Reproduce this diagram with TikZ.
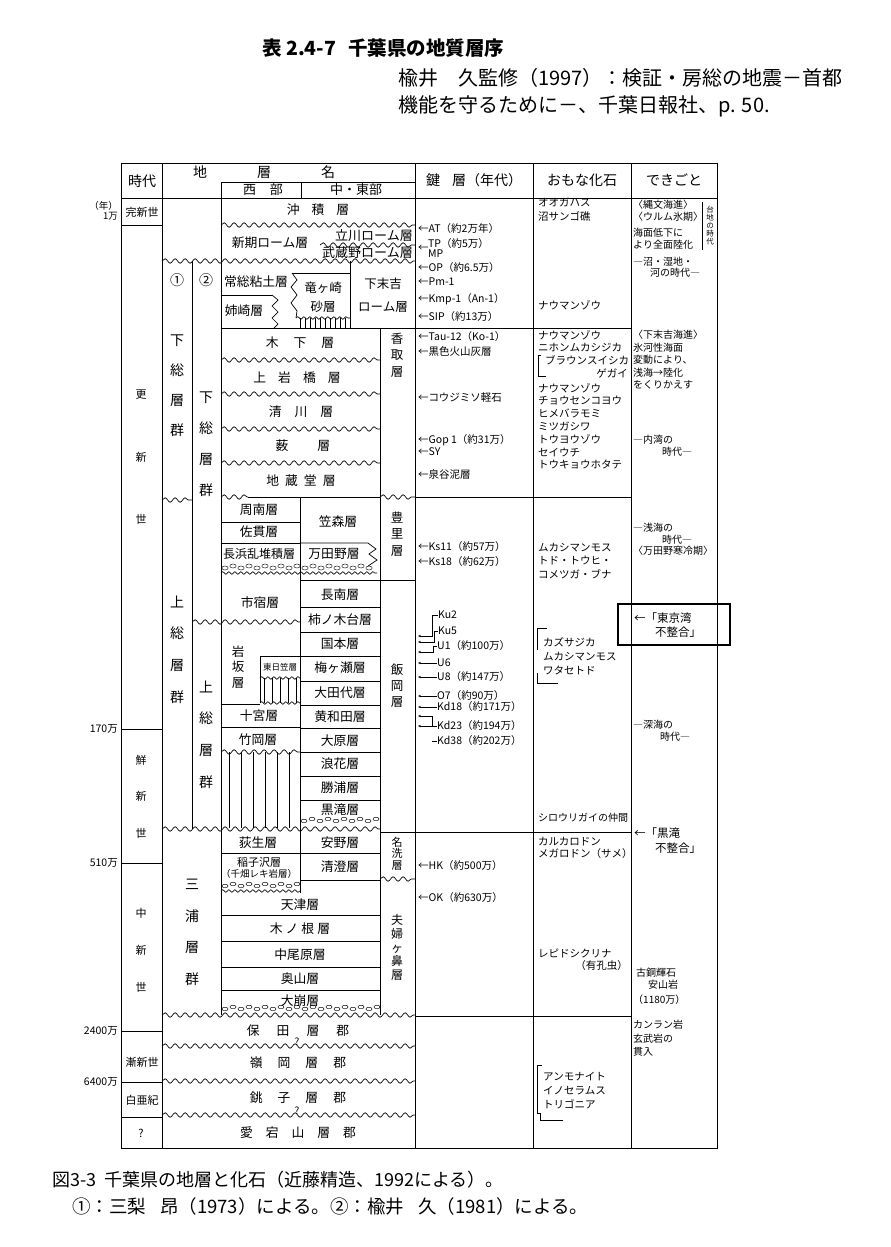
\documentclass[tikz,border=0pt]{standalone}
\usepackage{fontspec}
\setmainfont{Noto Sans CJK JP}
\usepackage{tikz}
\usetikzlibrary{positioning,calc,arrows.meta,decorations.pathmorphing}

\tikzset{
  rule/.style={line width=0.7pt},
  wavy/.style={line width=0.7pt,decorate,decoration={snake,segment length=10pt,amplitude=2.2pt}},
  finewavy/.style={line width=0.6pt,decorate,decoration={snake,segment length=6pt,amplitude=1.4pt}},
  hatch/.style={line width=0.6pt},
  pebble/.style={line width=0.45pt},
  hd/.style={font=\fontsize{14}{16}\selectfont,inner sep=0pt},
  lyr/.style={font=\fontsize{12.8}{14}\selectfont,inner sep=0pt},
  vlyr/.style={inner sep=0pt,align=center},
  era/.style={font=\fontsize{11}{13}\selectfont,inner sep=0pt},
  agel/.style={font=\fontsize{10.5}{11}\selectfont,inner sep=0pt,anchor=east,align=right},
  keyl/.style={font=\fontsize{10.5}{12}\selectfont,inner sep=0pt,anchor=west},
  foss/.style={font=\fontsize{10.5}{12.8}\selectfont,inner sep=0pt,anchor=north west,align=left},
  evt/.style={font=\fontsize{10}{12.5}\selectfont,inner sep=0pt,anchor=west,align=left},
  kar/.style={-{Stealth[length=3pt,width=2.4pt]},line width=0.5pt},
}

\begin{document}
\begin{tikzpicture}[x=1pt,y=-1pt]
\useasboundingbox (0,0) rectangle (891,1247);
\fill[white] (0,0) rectangle (891,1247);

% title and source
\node[anchor=west,inner sep=0pt,font=\fontsize{19.5}{21}\selectfont\bfseries] (title) at (262,48) {表 2.4-7\hspace{12pt}千葉県の地質層序};
\node[anchor=west,inner sep=0pt,font=\fontsize{20}{22}\selectfont] (src1) at (398,78) {楡井　久監修（1997）：検証・房総の地震－首都};
\node[anchor=west,inner sep=0pt,font=\fontsize{20}{22}\selectfont] (src2) at (398,106) {機能を守るために－、千葉日報社、p. 50.};

% frame and columns
\draw[rule] (121,163) rectangle (717,1148);
\draw[rule] (121,198) -- (717,198);
\foreach \x in {162,415,533,631} \draw[rule] (\x,163) -- (\x,1148);
\draw[rule] (221,182) -- (415,182);
\draw[rule] (301,182) -- (301,198);
\draw[rule] (221,182) -- (221,1015);
\draw[rule] (192,261) -- (192,829);
\draw[rule] (380,328) -- (380,1015);
\draw[rule] (300,497) -- (300,893);
\foreach \y in {225,729,863,1031,1082,1117} \draw[rule] (121,\y) -- (162,\y);
\foreach \y in {328,497,832,1016} \draw[rule] (415,\y) -- (631,\y);

% headers
\node[hd] (h-jidai) at (142,181) {時代};
\node[hd] (h-chisomei) at (264,172) {地\hspace{50pt}層\hspace{50pt}名};
\node[hd,font=\fontsize{13}{14}\selectfont] (h-seibu) at (263,190) {西\hspace{14pt}部};
\node[hd,font=\fontsize{13}{14}\selectfont] (h-chutobu) at (356,190) {中・東部};
\node[hd] (h-kagi) at (474,180) {鍵\hspace{12pt}層（年代）};
\node[hd] (h-kaseki) at (582,180) {おもな化石};
\node[hd] (h-dekigoto) at (674,180) {できごと};

% ages and epochs
\node[agel,font=\fontsize{9.5}{10.5}\selectfont] (a-1man) at (118,211) {（年）\\1万};
\node[agel] (a-170) at (118,729) {170万};
\node[agel] (a-510) at (118,863) {510万};
\node[agel] (a-2400) at (118,1031) {2400万};
\node[agel] (a-6400) at (118,1082) {6400万};
\node[era] (e-kanshin) at (142,212) {完新世};
\node[era,align=center,font=\fontsize{11}{62.5}\selectfont] (e-koshin) at (141,457.5) {更\\新\\世};
\node[era,align=center,font=\fontsize{11}{36.5}\selectfont] (e-senshin) at (141,796.5) {鮮\\新\\世};
\node[era,align=center,font=\fontsize{11}{37}\selectfont] (e-chushin) at (141,950) {中\\新\\世};
\node[era] (e-zenshin) at (142,1062) {漸新世};
\node[era] (e-hakua) at (142,1100) {白亜紀};
\node[era] (e-fumei) at (141,1133) {?};

% groups
\node[hd] (g-one) at (177,280) {①};
\node[hd] (g-two) at (206,280) {②};
\node[vlyr,font=\fontsize{14}{30}\selectfont] (g-shimo1) at (177,386) {下\\総\\層\\群};
\node[vlyr,font=\fontsize{14}{31}\selectfont] (g-shimo2) at (206,444.5) {下\\総\\層\\群};
\node[vlyr,font=\fontsize{14}{31.7}\selectfont] (g-kazusa1) at (177,649.5) {上\\総\\層\\群};
\node[vlyr,font=\fontsize{14}{31.7}\selectfont] (g-kazusa2) at (206,734.5) {上\\総\\層\\群};
\node[vlyr,font=\fontsize{14}{31.7}\selectfont] (g-miura) at (192,932.5) {三\\浦\\層\\群};

% holocene and loam
\node[lyr] (chuseki) at (318,210) {沖\hspace{12pt}積\hspace{12pt}層};
\draw[wavy] (221,225) -- (415,225);
\node[lyr] (shinki) at (270,243) {新期ローム層};
\node[lyr,anchor=east,font=\fontsize{13}{14}\selectfont] (tachikawa) at (413,236) {立川ローム層};
\draw[wavy] (320,245) -- (415,245);
\node[lyr,anchor=east,font=\fontsize{13}{14}\selectfont] (musashino) at (413,253) {武蔵野ローム層};
\draw[wavy] (162,261) -- (415,261);

% joso, anesaki, ryugasaki, shimosueyoshi
\node[lyr] (joso) at (256,282) {常総粘土層};
\draw[rule] (221,295) -- (272,295);
\node[lyr] (anesaki) at (244,311) {姉崎層};
\draw[rule] (272,295) -- (278,300) -- (272,306) -- (278,312) -- (272,318) -- (278,324) -- (274,328);
\draw[rule] (292,273) -- (350,273);
\draw[rule] (292,273) -- (297,280) -- (291,287) -- (297,295) -- (291,303) -- (297,311) -- (296,318);
\draw[rule] (350,261) -- (350,328);
\foreach \x in {300,305,...,348} \draw[hatch] (\x,318) -- (\x,328);
\draw[finewavy] (296,318) -- (350,318);
\node[vlyr,font=\fontsize{12.5}{19}\selectfont] (ryugasaki) at (323,297.5) {竜ヶ崎\\砂層};
\node[vlyr,font=\fontsize{12.5}{23}\selectfont] (shimosueyoshi) at (383,295) {下末吉\\ローム層};
\draw[rule] (221,328) -- (415,328);

% shimosa formations
\node[lyr] (kioroshi) at (300,343) {木\hspace{15pt}下\hspace{15pt}層};
\draw[wavy] (221,360) -- (380,360);
\node[lyr] (kamiiwahashi) at (297,378) {上\hspace{12pt}岩\hspace{12pt}橋\hspace{12pt}層};
\draw[wavy] (221,394) -- (380,394);
\node[lyr] (kiyokawa) at (301,412) {清\hspace{13pt}川\hspace{13pt}層};
\draw[wavy] (221,429) -- (380,429);
\node[lyr] (yabu) at (303,446) {薮\hspace{29pt}層};
\draw[wavy] (221,463) -- (380,463);
\node[lyr] (jizodo) at (301,481) {地\hspace{6pt}蔵\hspace{6pt}堂\hspace{6pt}層};
\draw[wavy] (221,497) -- (248,497);
\draw[rule] (248,497) -- (380,497);
\draw[wavy] (380,497) -- (415,497);
\draw[wavy] (162,500) -- (192,500);
\node[vlyr,font=\fontsize{12.5}{16.5}\selectfont] (katori) at (397,355) {香\\取\\層};

% kazusa, west
\node[lyr] (shunan) at (259,510) {周南層};
\draw[rule] (221,522) -- (300,522);
\node[lyr] (nukki) at (259,532) {佐貫層};
\draw[rule] (221,543) -- (300,543);
\node[lyr,font=\fontsize{12}{13}\selectfont] (nagahama) at (259,554) {長浜乱堆積層};
\node[lyr] (kasamori) at (338,522) {笠森層};
\draw[rule] (300,543) -- (368,543) -- (376,549) -- (369,554) -- (377,560) -- (368,566);
\node[lyr] (mandano) at (334,554) {万田野層};
\foreach \x [count=\i] in {225,233,...,372} \draw[pebble] (\x,{566+2*mod(\i,2)}) ellipse (3.2pt and 2pt);
\draw[finewavy] (221,573) -- (377,573);
\draw[rule] (300,580) -- (415,580);
\node[vlyr,font=\fontsize{12.5}{16.5}\selectfont] (toyosato) at (397,534) {豊\\里\\層};
\node[lyr] (ichijuku) at (260,603) {市宿層};
\draw[wavy] (192,622) -- (300,622);

% iwasaka, higashihigasa, jikkyu, takeoka
\node[vlyr,font=\fontsize{12.5}{15.5}\selectfont] (iwasaka) at (238,667) {岩\\坂\\層};
\draw[rule] (260,703) -- (260,656) -- (300,656);
\node[inner sep=0pt,font=\fontsize{8.5}{9}\selectfont] (higashihigasa) at (280,667) {東日笠層};
\foreach \x in {264,272,...,296} \draw[hatch] (\x,678) -- (\x,703);
\draw[finewavy] (260,678) -- (300,678);
\draw[finewavy] (260,703) -- (300,703);
\draw[rule] (221,704) -- (260,704);
\node[lyr] (jikkyu) at (259,716) {十宮層};
\draw[rule] (221,727) -- (300,727);
\node[lyr] (takeoka) at (258,740) {竹岡層};
\draw[wavy] (221,752) -- (300,752);
\foreach \x in {229,241,...,289} \draw[hatch] (\x,752) -- (\x,828);

% kazusa, central-east
\foreach \y in {607,632,656,681,705,728,752,776,800} \draw[rule] (300,\y) -- (380,\y);
\node[lyr] (chonan) at (340,595) {長南層};
\node[lyr] (kakinokidai) at (340,620) {柿ノ木台層};
\node[lyr] (kokumoto) at (340,644) {国本層};
\node[lyr] (umegase) at (340,668) {梅ヶ瀬層};
\node[lyr] (otadai) at (340,693) {大田代層};
\node[lyr] (kiwada) at (340,717) {黄和田層};
\node[lyr] (ohara) at (340,741) {大原層};
\node[lyr] (namihana) at (340,764) {浪花層};
\node[lyr] (katsuura) at (340,788) {勝浦層};
\node[lyr] (kurotaki) at (340,810) {黒滝層};
\foreach \x [count=\i] in {304,312,...,376} \draw[pebble] (\x,{819+2*mod(\i,2)}) ellipse (3pt and 1.8pt);
\draw[wavy] (162,829) -- (380,829);
\draw[rule] (380,832) -- (415,832);
\node[vlyr,font=\fontsize{12.5}{16}\selectfont] (iioka) at (397,686) {飯\\岡\\層};

% miura group
\node[lyr] (ogyu) at (258,843) {荻生層};
\node[lyr] (yasuno) at (340,843) {安野層};
\draw[rule] (221,853) -- (380,853);
\node[vlyr,font=\fontsize{11}{11}\selectfont] (inakozawa) at (259,867.5) {稲子沢層\\{\fontsize{9.5}{11}\selectfont（千畑レキ岩層）}};
\node[lyr] (kiyosumi) at (340,867) {清澄層};
\draw[rule] (300,880) -- (380,880);
\foreach \x [count=\i] in {225,233,...,297} \draw[pebble] (\x,{884+2*mod(\i,2)}) ellipse (3pt and 1.8pt);
\draw[finewavy] (221,891) -- (300,891);
\node[vlyr,font=\fontsize{11}{11.5}\selectfont] (naarai) at (397,853.5) {名\\洗\\層};
\draw[wavy] (380,879) -- (415,879);
\node[vlyr,font=\fontsize{12}{13.8}\selectfont] (myogabana) at (397,947.5) {夫\\婦\\ヶ\\鼻\\層};
\node[lyr] (amatsu) at (300,905) {天津層};
\foreach \y in {915,941,967,990} \draw[rule] (221,\y) -- (380,\y);
\node[lyr] (kinone) at (300,929) {木\hspace{3pt}ノ\hspace{3pt}根\hspace{3pt}層};
\node[lyr] (nakaobara) at (300,955) {中尾原層};
\node[lyr] (okuyama) at (300,979) {奥山層};
\node[lyr] (okuzure) at (300,1001) {大崩層};
\foreach \x [count=\i] in {225,233,...,377} \draw[pebble] (\x,{1007+2*mod(\i,2)}) ellipse (3pt and 1.8pt);
\draw[wavy] (162,1015) -- (415,1015);

% basement groups
\node[lyr] (hota) at (298,1031) {保\hspace{17pt}田\hspace{17pt}層\hspace{17pt}郡};
\draw[wavy] (162,1046) -- (415,1046);
\node[inner sep=0pt,font=\fontsize{10}{11}\selectfont] (q-hota) at (297,1042) {?};
\node[lyr] (mineoka) at (298,1063) {嶺\hspace{15pt}岡\hspace{15pt}層\hspace{15pt}郡};
\draw[wavy] (162,1081) -- (415,1081);
\node[lyr] (choshi) at (298,1098) {銚\hspace{15pt}子\hspace{15pt}層\hspace{15pt}郡};
\draw[wavy] (162,1115) -- (415,1115);
\node[inner sep=0pt,font=\fontsize{10}{11}\selectfont] (q-choshi) at (297,1111) {?};
\node[lyr] (atagoyama) at (298,1133) {愛\hspace{13pt}宕\hspace{13pt}山\hspace{13pt}層\hspace{13pt}郡};

% key beds
\node[keyl] (k-at) at (418,229) {←AT（約2万年）};
\node[keyl] (k-arr) at (418,248) {←};
\node[keyl,align=left,font=\fontsize{10.5}{9.5}\selectfont] (k-tpmp) at (428,248) {TP（約5万）\\MP};
\node[keyl] (k-op) at (418,268) {←OP（約6.5万）};
\node[keyl] (k-pm) at (418,282) {←Pm-1};
\node[keyl] (k-kmp) at (418,299) {←Kmp-1（An-1）};
\node[keyl] (k-sip) at (418,317) {←SIP（約13万）};
\node[keyl] (k-tau) at (418,337) {←Tau-12（Ko-1）};
\node[keyl] (k-kokushoku) at (418,352) {←黒色火山灰層};
\node[keyl] (k-kojimiso) at (418,398) {←コウジミソ軽石};
\node[keyl] (k-gop) at (418,440) {←Gop 1（約31万）};
\node[keyl] (k-sy) at (418,452) {←SY};
\node[keyl] (k-izumiyatsu) at (418,474) {←泉谷泥層};
\node[keyl] (k-ks11) at (418,547) {←Ks11（約57万）};
\node[keyl] (k-ks18) at (418,562) {←Ks18（約62万）};
\node[keyl] (ku2) at (438,615) {Ku2};
\node[keyl] (ku5) at (438,631) {Ku5};
\node[keyl] (u1) at (437,646) {U1（約100万）};
\node[keyl] (u6) at (437,663) {U6};
\node[keyl] (u8) at (437,677) {U8（約147万）};
\node[keyl] (o7) at (437,696) {O7（約90万）};
\node[keyl] (kd18) at (437,707) {Kd18（約171万）};
\node[keyl] (kd23) at (437,726) {Kd23（約194万）};
\node[keyl] (kd38) at (437,741) {Kd38（約202万）};
\draw[kar] (ku2.west) -- ++(-6,0) -- ++(0,21) -- ++(-14,0);
\draw[kar] (ku5.west) -- ++(-4,0) -- ++(0,11) -- ++(-16,0);
\draw[kar] (u1.west) -- ++(-4,0) -- ++(0,6) -- ++(-15,0);
\foreach \k in {u6,u8,o7,kd18,kd23} \draw[kar] (\k.west) -- ++(-19,0);
\draw[kar] (kd23.west) -- ++(-5,0) -- ++(0,-10) -- ++(-14,0);
\draw[line width=0.5pt] (kd38.west) -- ++(-5,0);
\node[keyl] (k-hk) at (418,865) {←HK（約500万）};
\node[keyl] (k-ok) at (418,897) {←OK（約630万）};

% fossils
\node[foss,font=\fontsize{10.5}{14}\selectfont] (f-ogahasu) at (538,198) {オオガハス\\沼サンゴ礁};
\node[foss] (f-nauman1) at (538,300) {ナウマンゾウ};
\node[foss,font=\fontsize{10.5}{12.5}\selectfont] (f-nauman2) at (538,330) {ナウマンゾウ\\ニホンムカシジカ};
\node[keyl] (f-braun) at (545,360) {ブラウンスイシカ};
\node[keyl,anchor=east] (f-gegai) at (628,373) {ゲガイ};
\draw[line width=0.5pt] (541,355) -- (538,355) -- (538,376) -- (546,376);
\node[foss] (f-nauman3) at (538,383) {ナウマンゾウ\\チョウセンコヨウ\\ヒメバラモミ\\ミツガシワ\\トウヨウゾウ\\セイウチ\\トウキョウホタテ};
\node[foss,font=\fontsize{10.5}{13.5}\selectfont] (f-mukashi1) at (538,543) {ムカシマンモス\\トド・トウヒ・\\コメツガ・ブナ};
\node[foss,font=\fontsize{10.5}{14}\selectfont] (f-kazusajika) at (543,637) {カズサジカ\\ムカシマンモス\\ワタセトド};
\draw[line width=0.5pt] (547,628) -- (537,628) -- (537,650);
\draw[line width=0.5pt] (537,673) -- (537,683) -- (558,683);
\node[keyl,font=\fontsize{10}{12}\selectfont] (f-shirouri) at (538,818) {シロウリガイの仲間};
\node[foss,font=\fontsize{10.5}{11.7}\selectfont] (f-karukarodon) at (538,837) {カルカロドン\\メガロドン（サメ）};
\node[keyl] (f-lepido) at (538,953) {レピドシクリナ};
\node[keyl,anchor=east] (f-yukochu) at (628,965) {（有孔虫）};
\node[foss,font=\fontsize{10.5}{14}\selectfont] (f-ammonite) at (543,1072) {アンモナイト\\イノセラムス\\トリゴニア};
\draw[line width=0.5pt] (542,1065) -- (537,1065) -- (537,1113) -- (540,1113) -- (540,1120) -- (563,1120);

% events
\node[evt,font=\fontsize{10}{12}\selectfont] (v-jomon) at (633,211) {〈縄文海進〉\\〈ウルム氷期〉};
\node[evt,font=\fontsize{10}{12}\selectfont] (v-rikka) at (633,239) {海面低下に\\より全面陸化};
\draw[rule] (702,202) -- (702,250);
\node[vlyr,font=\fontsize{7.5}{8}\selectfont] (v-daichi) at (710,226) {台\\地\\の\\時\\代};
\node[evt] (v-numa) at (633,262) {―沼・湿地・};
\node[evt] (v-kawa) at (650,273) {河の時代―};
\node[evt] (v-shimosueyoshi) at (633,360) {〈下末吉海進〉\\氷河性海面\\変動により、\\浅海→陸化\\をくりかえす};
\node[evt] (v-naiwan) at (633,440) {―内湾の};
\node[evt] (v-naiwan2) at (662,452) {時代―};
\node[evt] (v-senkai) at (633,528) {―浅海の};
\node[evt] (v-senkai2) at (662,540) {時代―};
\node[evt] (v-mandano) at (633,551) {〈万田野寒冷期〉};
\node[draw,line width=2pt,minimum width=112pt,minimum height=41pt,inner sep=0pt] (v-box) at (674,624) {};
\node[evt,font=\fontsize{11.5}{13}\selectfont] (v-tokyowan) at (634,618) {←「東京湾};
\node[evt,font=\fontsize{11.5}{13}\selectfont] (v-tokyowan2) at (655,632) {不整合」};
\node[evt] (v-shinkai) at (633,725) {―深海の};
\node[evt] (v-shinkai2) at (660,737) {時代―};
\node[evt,font=\fontsize{11.5}{13}\selectfont] (v-kurotaki) at (634,833) {←「黒滝};
\node[evt,font=\fontsize{11.5}{13}\selectfont] (v-kurotaki2) at (655,848) {不整合」};
\node[evt] (v-kodoki) at (636,973) {古銅輝石};
\node[evt] (v-anzan) at (648,985) {安山岩};
\node[evt] (v-1180) at (633,1000) {（1180万）};
\node[evt,font=\fontsize{10}{13.5}\selectfont] (v-kanran) at (633,1038.5) {カンラン岩\\玄武岩の\\貫入};

% caption
\node[anchor=west,inner sep=0pt,font=\fontsize{18}{19}\selectfont] (cap1) at (52,1180) {図3-3\hspace{8pt}千葉県の地層と化石（近藤精造、1992による）。};
\node[anchor=west,inner sep=0pt,font=\fontsize{18.5}{19}\selectfont] (cap2) at (72,1206) {①：三梨\hspace{14pt}昂（1973）による。②：楡井\hspace{14pt}久（1981）による。};
\end{tikzpicture}
\end{document}
